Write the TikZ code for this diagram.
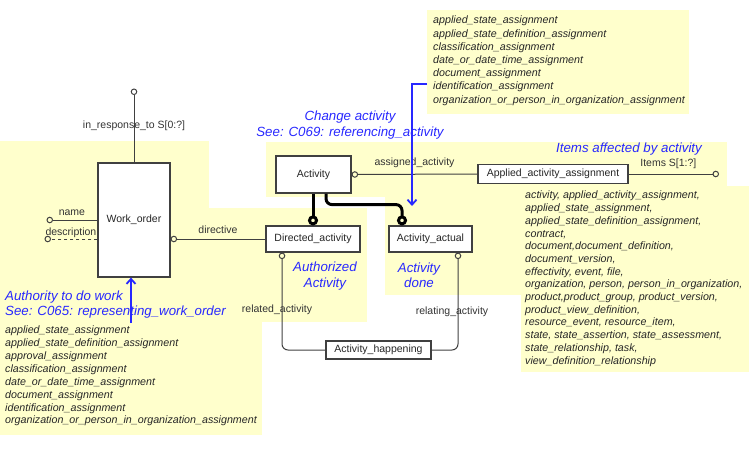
\documentclass[tikz,border=0pt]{standalone}
\usepackage{fontspec}
\setmainfont{Liberation Sans}
\usepackage{xcolor}
\usetikzlibrary{arrows.meta,positioning}
\definecolor{notebg}{RGB}{255,255,204}
\definecolor{noteblue}{RGB}{40,40,255}
\definecolor{edgegray}{RGB}{64,64,64}
\tikzset{>=stealth}
\tikzset{entity/.style={draw=edgegray,line width=1.2pt,fill=white,inner sep=0pt,font=\fontsize{10.5}{12}\selectfont,text=black!85}}
\tikzset{attr/.style={draw=edgegray,line width=1pt}}

\begin{document}
\begin{tikzpicture}[x=1pt,y=-1pt,
    lbl/.style={font=\fontsize{10.5}{12}\selectfont,text=black!80,inner sep=0pt},
    lst/.style={font=\fontsize{10.7}{#1}\selectfont\itshape,align=left,inner sep=0pt,anchor=north west,text=black!85},
    rem/.style={font=\fontsize{13.3}{#1}\selectfont\itshape,text=noteblue,inner sep=0pt},
    remline/.style={draw=noteblue,line width=1.8pt,-{Straight Barb[length=5pt,width=9pt]}},
    oe/.style={-{Circle[open,length=6.5pt,width=6.5pt]}},
    os/.style={{Circle[open,length=6.5pt,width=6.5pt]}-},
    sup/.style={draw=black,line width=3pt,-{Circle[open,length=10pt,width=10pt]}}]
    \useasboundingbox (0,0) rectangle (749,455);
    \fill[notebg] (427,10) rectangle (689,114);
    \fill[notebg] (266,142) rectangle (727,197);
    \fill[notebg] (385,142) rectangle (521,295);
    \fill[notebg] (521,186) rectangle (749,372);
    \fill[notebg] (0,141) rectangle (209,435);
    \fill[notebg] (0,208) rectangle (367,322);
    \fill[notebg] (0,322) rectangle (262,435);

    \node[entity,minimum width=72pt,minimum height=114pt] (wo) at (134,220) {Work\_order};
    \node[entity,minimum width=75pt,minimum height=37pt] (act) at (313.5,174.5) {Activity};
    \node[entity,minimum width=94pt,minimum height=26pt] (da) at (313,239) {Directed\_activity};
    \node[entity,minimum width=83pt,minimum height=26pt] (aa) at (430.5,239) {Activity\_actual};
    \node[entity,minimum width=150pt,minimum height=19pt] (aaa) at (553,174) {Applied\_activity\_assignment};
    \node[entity,minimum width=105pt,minimum height=18pt] (ah) at (378.5,350) {Activity\_happening};

    \coordinate (irt) at (134,88.5);
    \coordinate (nm) at (46.5,220);
    \coordinate (ds) at (44.5,239);
    \coordinate (it) at (719,174);
    \coordinate (cs) at (427,84);
    \coordinate (ce) at (412,206);
    \coordinate (ws) at (131,323);

    \draw[attr,oe] (wo) -- node[lbl] (irtl) {in\_response\_to S[0:?]} (irt);
    \draw[attr,oe] (wo.west) -- node[lbl,anchor=base,yshift=5pt] (nml) {name} (nm);
    \draw[attr,oe,dashed] ([yshift=-19pt]wo.west) -- node[lbl,anchor=base,yshift=4pt] (dsl) {description} (ds);
    \draw[attr,os] ([yshift=-19pt]wo.east) -- node[lbl,anchor=base,yshift=6pt] (dvl) {directive} (da.west);
    \draw[attr,os] (act.east) -- node[lbl,anchor=base,yshift=9pt] (asl) {assigned\_activity} (aaa.west);
    \draw[attr,oe] (aaa.east) -- node[lbl,anchor=base,yshift=8pt,pos=0.44] (itl) {Items S[1:?]} (it);
    \draw[attr,os,rounded corners=6pt] ([xshift=-31pt]da.south) |- node[lbl,pos=0.295,xshift=-5pt] (rdl) {related\_activity} (ah.west);
    \draw[attr,os,rounded corners=6pt] ([xshift=27.5pt]aa.south) |- node[lbl,pos=0.305,xshift=-6pt] (rgl) {relating\_activity} (ah.east);

    \draw[sup] (da.north |- act.south) -- (da.north);
    \draw[sup,rounded corners=6pt] ([xshift=12.5pt]act.south) -- ++(0,11) -| ([xshift=-28.5pt]aa.north);

    \draw[remline] (cs) -| (ce);
    \draw[remline] (ws) -- (ws |- wo.south);

    \node[rem=16,align=center] (chg) at (350,125) {Change activity\\See: C069: referencing\_activity};
    \node[rem=16] (ita) at (629,149) {Items affected by activity};
    \node[rem=16,align=center] (auth) at (325,276) {Authorized\\Activity};
    \node[rem=15,align=center] (done) at (419,275) {Activity\\done};
    \node[rem=15,align=left,anchor=west] (awk) at (5,305) {Authority to do work\\See: C065: representing\_work\_order};

    \node[lst=13.2] (tl) at (433,16) {applied\_state\_assignment\\applied\_state\_definition\_assignment\\classification\_assignment\\date\_or\_date\_time\_assignment\\document\_assignment\\identification\_assignment\\organization\_or\_person\_in\_organization\_assignment};
    \node[lst=12.86] (ll) at (5,326) {applied\_state\_assignment\\applied\_state\_definition\_assignment\\approval\_assignment\\classification\_assignment\\date\_or\_date\_time\_assignment\\document\_assignment\\identification\_assignment\\organization\_or\_person\_in\_organization\_assignment};
    \node[lst=12.7] (rl) at (525,191) {activity, applied\_activity\_assignment,\\applied\_state\_assignment,\\applied\_state\_definition\_assignment,\\contract,\\document,document\_definition,\\document\_version,\\effectivity, event, file,\\organization, person, person\_in\_organization,\\product,product\_group, product\_version,\\product\_view\_definition,\\resource\_event, resource\_item,\\state, state\_assertion, state\_assessment,\\state\_relationship, task,\\view\_definition\_relationship};
\end{tikzpicture}
\end{document}
